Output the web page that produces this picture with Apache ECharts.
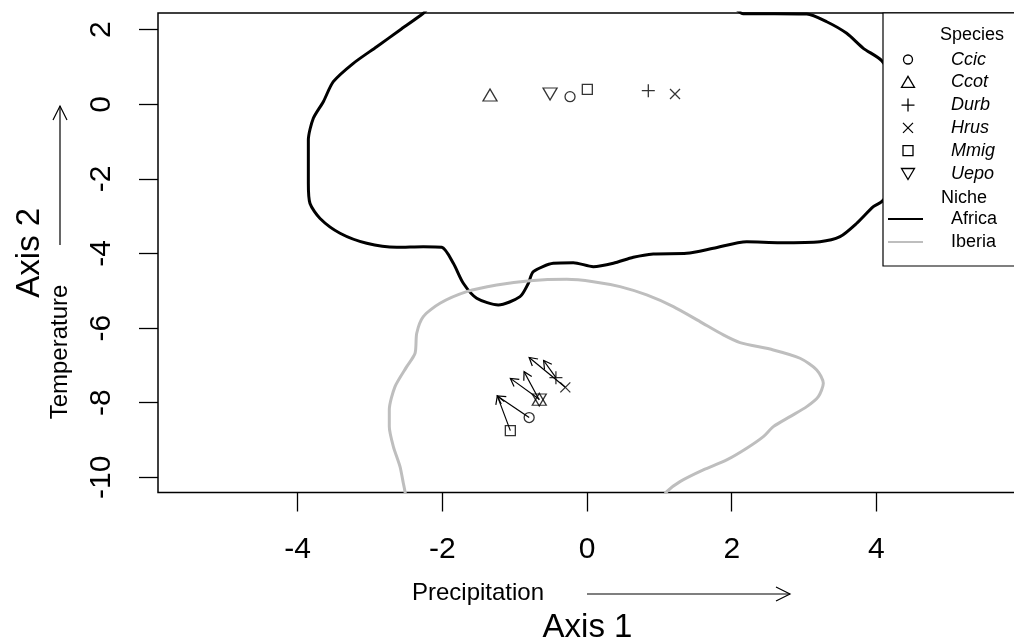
<!DOCTYPE html>
<html>
<head>
<meta charset="utf-8">
<script src="https://cdn.jsdelivr.net/npm/echarts@6/dist/echarts.min.js"></script>
<style>html,body{margin:0;padding:0;background:#fff;}#chart{width:1014px;height:643px;}</style>
</head>
<body>
<div id="chart"></div>
<script>
// ---- data ----
const xTicks = [-4, -2, 0, 2, 4];
const yTicks = [-10, -8, -6, -4, -2, 0, 2];
const species = ['Ccic', 'Ccot', 'Durb', 'Hrus', 'Mmig', 'Uepo'];
const africaX = [-0.235, -1.341, 0.847, 1.216, 0.004, -0.511];
const africaY = [0.204, 0.249, 0.365, 0.276, 0.402, 0.276];
const iberiaX = [-0.80, -0.66, -0.43, -0.30, -1.06, -0.66];
const iberiaY = [-8.40, -7.91, -7.33, -7.59, -8.75, -7.93];
const arrowEndX = [-1.24, -1.06, -0.60, -0.80, -1.24, -0.87];
const arrowEndY = [-7.82, -7.35, -6.87, -6.79, -7.82, -7.17];
const niches = ['Africa', 'Iberia'];
const africaNicheX = [-2.20, -2.263, -2.585, -2.907, -3.230, -3.507, -3.645, -3.783, -3.852, -3.852, -3.852, -3.829, -3.690, -3.414, -3.045, -2.630, -2.263, -2.008, -1.848, -1.710, -1.525, -1.226, -0.926, -0.811, -0.742, -0.466, -0.189, 0.087, 0.364, 0.640, 0.916, 1.378, 1.746, 2.207, 2.668, 3.220, 3.497, 3.728, 3.957, 4.073, 4.257, 4.395, 4.326, 4.073, 3.819, 3.589, 3.313, 3.037, 2.598, 2.160, 2.046];
const africaNicheY = [2.58, 2.44, 1.992, 1.544, 1.099, 0.606, 0.070, -0.375, -0.957, -1.493, -2.118, -2.660, -3.062, -3.458, -3.727, -3.834, -3.818, -3.834, -4.263, -4.799, -5.201, -5.381, -5.158, -4.799, -4.488, -4.263, -4.247, -4.354, -4.263, -4.102, -4.013, -3.995, -3.861, -3.684, -3.710, -3.684, -3.550, -3.190, -2.745, -2.611, -2.164, -0.958, 0.383, 1.169, 1.501, 1.903, 2.214, 2.421, 2.43, 2.43, 2.58];
const iberiaNicheX = [-2.502, -2.516, -2.539, -2.585, -2.677, -2.733, -2.733, -2.654, -2.492, -2.377, -2.354, -2.263, -2.032, -1.663, -1.248, -0.788, -0.281, 0.087, 0.456, 0.825, 1.193, 1.562, 1.884, 2.115, 2.575, 2.944, 3.175, 3.266, 3.197, 3.037, 2.806, 2.575, 2.437, 2.207, 1.931, 1.607, 1.285, 1.102, 1.037];
const iberiaNicheY = [-10.61, -10.386, -10.161, -9.716, -9.180, -8.643, -8.196, -7.571, -7.035, -6.676, -6.139, -5.694, -5.335, -5.024, -4.845, -4.729, -4.692, -4.756, -4.890, -5.113, -5.426, -5.828, -6.185, -6.391, -6.587, -6.810, -7.123, -7.480, -7.839, -8.107, -8.375, -8.643, -8.912, -9.223, -9.536, -9.804, -10.118, -10.386, -10.61];

// ---- styles ----
const FONT = 'Liberation Sans, Arial, Helvetica, sans-serif';
const symbolStyle = {
  Ccic: { symbol: 'circle', size: 10, rotate: 0 },
  Ccot: { symbol: 'triangle', size: [14, 12], rotate: 0 },
  Durb: { symbol: 'path://M0,5L10,5M5,0L5,10', size: 13, rotate: 0 },
  Hrus: { symbol: 'path://M0,0L10,10M0,10L10,0', size: 10, rotate: 0 },
  Mmig: { symbol: 'rect', size: 10, rotate: 0 },
  Uepo: { symbol: 'triangle', size: [14, 12], rotate: 180 }
};
const nicheColor = { Africa: '#000000', Iberia: '#BEBEBE' };

const chart = echarts.init(document.getElementById('chart'), null, { renderer: 'canvas' });

const series = [];
niches.forEach(function (n) {
  const xs = n === 'Africa' ? africaNicheX : iberiaNicheX;
  const ys = n === 'Africa' ? africaNicheY : iberiaNicheY;
  series.push({
    name: n, type: 'line', data: xs.map(function (x, i) { return [x, ys[i]]; }),
    showSymbol: false, symbol: 'none', smooth: 0.25, clip: true, silent: true,
    lineStyle: { color: nicheColor[n], width: 3 }, z: 2
  });
});
series.push({
  name: 'shift', type: 'custom', silent: true, clip: true, z: 3,
  data: species.map(function (s, i) { return [iberiaX[i], iberiaY[i], arrowEndX[i], arrowEndY[i]]; }),
  encode: { x: [0, 2], y: [1, 3] },
  renderItem: function (params, api) {
    const a = api.coord([api.value(0), api.value(1)]);
    const b = api.coord([api.value(2), api.value(3)]);
    const ang = Math.atan2(b[1] - a[1], b[0] - a[0]);
    const L = 9, t = Math.PI / 6;
    const h1 = [b[0] - L * Math.cos(ang - t), b[1] - L * Math.sin(ang - t)];
    const h2 = [b[0] - L * Math.cos(ang + t), b[1] - L * Math.sin(ang + t)];
    return {
      type: 'group', children: [
        { type: 'line', shape: { x1: a[0], y1: a[1], x2: b[0], y2: b[1] }, style: { stroke: '#000', lineWidth: 1.2 } },
        { type: 'polyline', shape: { points: [h1, b, h2] }, style: { stroke: '#000', fill: null, lineWidth: 1.2 } }
      ]
    };
  }
});
species.forEach(function (s, i) {
  const st = symbolStyle[s];
  series.push({
    name: s, type: 'scatter', silent: true, z: 4,
    data: [[africaX[i], africaY[i]], [iberiaX[i], iberiaY[i]]],
    symbol: st.symbol, symbolSize: st.size, symbolRotate: st.rotate,
    itemStyle: { color: 'rgba(0,0,0,0)', borderColor: '#000', borderWidth: 1.3 }
  });
});

// ---- legend (drawn as graphic) ----
const LX = 908, TX = 951, Y0 = 59.5, DY = 22.8;
const legendEls = [];
legendEls.push({ type: 'rect', z: 100, shape: { x: 883, y: 13, width: 140, height: 253 }, style: { fill: '#fff', stroke: '#000', lineWidth: 1.2 } });
legendEls.push({ type: 'text', z: 101, x: 940, y: 35, style: { text: 'Species', fill: '#000', font: '18px ' + FONT, align: 'left', verticalAlign: 'middle' } });
function legSym(s, y) {
  const st = { stroke: '#000', fill: null, lineWidth: 1.3 };
  if (s === 'Ccic') return { type: 'circle', z: 101, shape: { cx: LX, cy: y, r: 4.5 }, style: st };
  if (s === 'Ccot') return { type: 'polygon', z: 101, shape: { points: [[LX, y - 6], [LX + 6.5, y + 5], [LX - 6.5, y + 5]] }, style: st };
  if (s === 'Uepo') return { type: 'polygon', z: 101, shape: { points: [[LX, y + 6], [LX + 6.5, y - 5], [LX - 6.5, y - 5]] }, style: st };
  if (s === 'Mmig') return { type: 'rect', z: 101, shape: { x: LX - 5, y: y - 5, width: 10, height: 10 }, style: st };
  if (s === 'Durb') return { type: 'polyline', z: 101, shape: { points: [[LX - 6.5, y], [LX + 6.5, y], [LX, y], [LX, y - 6.5], [LX, y + 6.5]] }, style: st };
  return { type: 'group', z: 101, children: [
    { type: 'line', z: 101, shape: { x1: LX - 5, y1: y - 5, x2: LX + 5, y2: y + 5 }, style: st },
    { type: 'line', z: 101, shape: { x1: LX - 5, y1: y + 5, x2: LX + 5, y2: y - 5 }, style: st }
  ] };
}
species.forEach(function (s, i) {
  const y = Y0 + i * DY;
  legendEls.push(legSym(s, y));
  legendEls.push({ type: 'text', z: 101, x: TX, y: y, style: { text: s, fill: '#000', font: 'italic 18px ' + FONT, align: 'left', verticalAlign: 'middle' } });
});
legendEls.push({ type: 'text', z: 101, x: 941, y: Y0 + 6 * DY + 1.5, style: { text: 'Niche', fill: '#000', font: '18px ' + FONT, align: 'left', verticalAlign: 'middle' } });
niches.forEach(function (n, j) {
  const y = Y0 + (7 + j) * DY;
  legendEls.push({ type: 'line', z: 101, shape: { x1: 888, y1: y, x2: 923, y2: y }, style: { stroke: nicheColor[n], lineWidth: 2 } });
  legendEls.push({ type: 'text', z: 101, x: TX, y: y, style: { text: n, fill: '#000', font: '18px ' + FONT, align: 'left', verticalAlign: 'middle' } });
});

// ---- axis sub-titles with arrows ----
const deco = [
  { type: 'text', z: 50, x: 478, y: 593, style: { text: 'Precipitation', fill: '#000', font: '24px ' + FONT, align: 'center', verticalAlign: 'middle' } },
  { type: 'line', z: 50, shape: { x1: 587, y1: 594, x2: 790, y2: 594 }, style: { stroke: '#000', lineWidth: 1.2 } },
  { type: 'polyline', z: 50, shape: { points: [[776, 587], [790, 594], [776, 601]] }, style: { stroke: '#000', fill: null, lineWidth: 1.2 } },
  { type: 'text', z: 50, x: 60, y: 352, rotation: Math.PI / 2, style: { text: 'Temperature', fill: '#000', font: '24px ' + FONT, align: 'center', verticalAlign: 'middle' } },
  { type: 'line', z: 50, shape: { x1: 60, y1: 245, x2: 60, y2: 106 }, style: { stroke: '#000', lineWidth: 1.2 } },
  { type: 'polyline', z: 50, shape: { points: [[53, 120], [60, 106], [67, 120]] }, style: { stroke: '#000', fill: null, lineWidth: 1.2 } }
];

const option = {
  animation: false,
  backgroundColor: '#fff',
  grid: { left: 158, top: 13, right: -3, bottom: 150.5, show: true, borderColor: '#000', borderWidth: 1.5, backgroundColor: 'rgba(0,0,0,0)', containLabel: false, outerBoundsMode: 'none' },
  xAxis: {
    type: 'value', min: -5.93, max: 5.943, position: 'bottom',
    name: 'Axis 1', nameLocation: 'middle', nameGap: 119,
    nameTextStyle: { fontSize: 33, fontFamily: FONT, color: '#000' },
    axisLine: { show: false, onZero: false },
    axisTick: { show: true, length: 19, inside: false, customValues: xTicks, lineStyle: { color: '#000', width: 1.3 } },
    axisLabel: { show: true, customValues: xTicks, margin: 42, fontSize: 30, fontFamily: FONT, color: '#000' },
    splitLine: { show: false }
  },
  yAxis: {
    type: 'value', min: -10.41, max: 2.448, position: 'left',
    name: 'Axis 2', nameLocation: 'middle', nameGap: 112, nameRotate: 90,
    nameTextStyle: { fontSize: 33, fontFamily: FONT, color: '#000' },
    axisLine: { show: false, onZero: false },
    axisTick: { show: true, length: 19, inside: false, customValues: yTicks, lineStyle: { color: '#000', width: 1.3 } },
    axisLabel: { show: true, customValues: yTicks, rotate: 90, margin: 41, fontSize: 30, fontFamily: FONT, color: '#000' },
    splitLine: { show: false }
  },
  graphic: { elements: deco.concat(legendEls) },
  series: series
};
chart.setOption(option);
</script>
</body>
</html>
